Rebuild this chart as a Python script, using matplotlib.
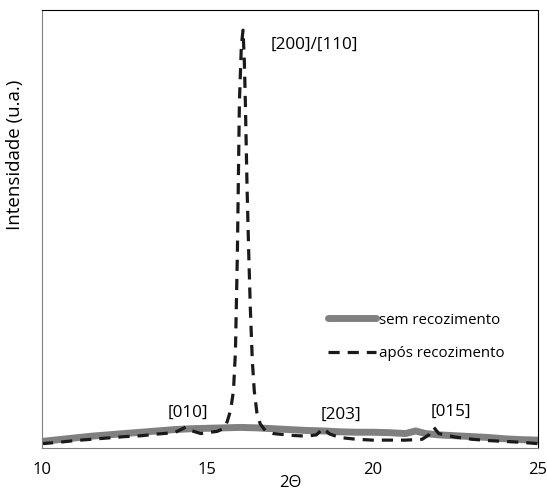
import matplotlib.pyplot as plt
import numpy as np

plt.rcParams['font.family'] = ['Open Sans', 'DejaVu Sans']

# sem recozimento (grey, thick)
x_sem = [10, 10.5, 11, 11.5, 12, 12.5, 13, 13.5, 14, 14.5, 15, 15.5, 16, 16.5,
         17, 17.5, 18, 18.5, 19, 19.5, 20, 20.5, 21, 21.3, 21.6, 22, 22.5,
         23, 23.5, 24, 24.5, 25]
y_sem = [1.5, 1.9, 2.3, 2.7, 3.0, 3.3, 3.6, 3.9, 4.2, 4.4, 4.5, 4.6, 4.7, 4.6,
         4.4, 4.2, 4.0, 3.9, 3.7, 3.6, 3.6, 3.5, 3.3, 3.9, 3.3, 3.0, 2.8,
         2.6, 2.4, 2.1, 1.9, 1.8]

# após recozimento (black, dashed)
x_apos = [10, 10.5, 11, 11.5, 12, 12.5, 13, 13.5, 14, 14.2, 14.35, 14.5, 14.8,
          15.0, 15.3, 15.5, 15.6, 15.7, 15.79, 15.85, 15.91, 15.97, 16.03, 16.08,
          16.12, 16.15, 16.2, 16.25, 16.3, 16.36, 16.42, 16.5, 16.6, 16.75,
          17, 17.5, 18, 18.3, 18.5, 18.7, 19, 19.5, 20, 20.5, 21, 21.5, 21.7,
          21.85, 22, 22.5, 23, 23.5, 24, 24.5, 25]
y_apos = [1.0, 1.3, 1.7, 2.0, 2.3, 2.6, 2.8, 3.2, 3.5, 4.2, 4.8, 4.0, 3.3,
          3.5, 3.8, 4.5, 6.0, 8.5, 13, 22, 45, 79, 92, 95.4,
          88, 79, 60, 45, 32, 20, 13, 8, 5.5, 4.0,
          3.3, 2.9, 2.7, 3.0, 4.5, 3.2, 2.4, 2.0, 1.8, 1.8, 1.8, 2.0, 3.0,
          4.7, 3.3, 2.5, 2.0, 1.7, 1.5, 1.3, 1.0]

peaks = ['[200]/[110]', '[010]', '[203]', '[015]']
peak_x = [16.9, 13.8, 18.43, 21.75]
peak_y = [92, 8, 7.5, 8.2]

fig = plt.figure(figsize=(5.47, 4.90), dpi=100)
ax = fig.add_axes([0.0768, 0.0857, 0.9067, 0.8939])

ax.plot(x_sem, y_sem, color='#808080', lw=5, solid_capstyle='round',
        label='sem recozimento')
ax.plot(x_apos, y_apos, color='#1a1a1a', lw=2.3, dashes=(3.5, 2.5),
        label='após recozimento')

for t, px, py in zip(peaks, peak_x, peak_y):
    ax.text(px, py, t, fontsize=12.3, ha='left', va='center')

ax.set_xlim(10, 25)
ax.set_ylim(0, 100)
ax.set_xticks([10, 15, 20, 25])
ax.set_yticks([])
ax.tick_params(axis='x', length=0, pad=10, labelsize=12)
ax.set_xlabel('2Θ', fontsize=12)
ax.xaxis.set_label_coords(0.5, -0.062)
ax.set_ylabel('Intensidade (u.a.)', fontsize=13.5)
ax.yaxis.set_label_coords(-0.036, 0.67)

for s in ['left', 'bottom']:
    ax.spines[s].set_color('#808080')
for s in ['top', 'right']:
    ax.spines[s].set_color('black')

ax.legend(loc='upper left', bbox_to_anchor=(0.55, 0.34), frameon=False,
          fontsize=10.8, handlelength=3.2, handletextpad=0.2, labelspacing=1.25)

fig.savefig('out.png', dpi=100)
